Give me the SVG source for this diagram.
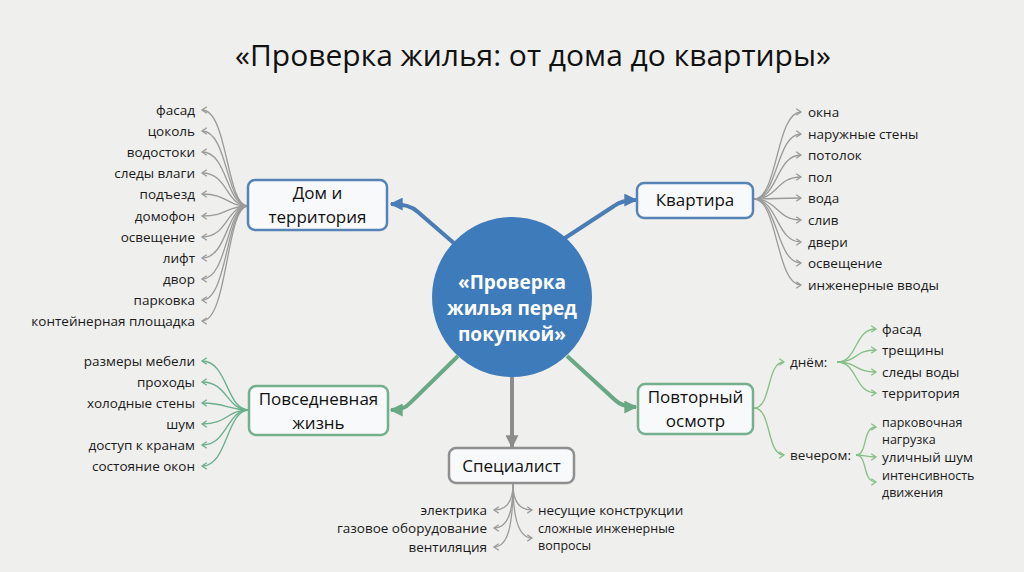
<svg xmlns="http://www.w3.org/2000/svg" width="1024" height="572" viewBox="0 0 1024 572">
<defs>
<style>
.bg{fill:#efefed}
.title{font-family:"Open Sans","Noto Sans","Liberation Sans",sans-serif;font-size:30px;font-weight:500;fill:#111;text-anchor:middle}
.ct{font-family:"Open Sans","Noto Sans","Liberation Sans",sans-serif;font-size:19px;font-weight:700;fill:#fff;text-anchor:middle}
.nt{font-family:"Open Sans","Noto Sans","Liberation Sans",sans-serif;font-size:17px;fill:#111;text-anchor:middle}
.lf{font-family:"Open Sans","Noto Sans","Liberation Sans",sans-serif;font-size:13.5px;fill:#1a1a1a}
.sm{font-size:12.5px}
.end{text-anchor:end}
.boxb{fill:#f8f9fa;stroke:#5683b6;stroke-width:2.5}
.boxg{fill:#f8f9fa;stroke:#74b08e;stroke-width:2.5}
.boxs{fill:#f8f9fa;stroke:#8f8f8f;stroke-width:2.5}
.mb{fill:none;stroke:#4a7db5;stroke-width:4;marker-end:url(#ab)}
.mg{fill:none;stroke:#68a884;stroke-width:4;marker-end:url(#ag)}
.ms{fill:none;stroke:#8c8c8c;stroke-width:4;marker-end:url(#as)}
.lg{fill:none;stroke:#9a9a9a;stroke-width:1.3;marker-end:url(#cg)}
.ln{fill:none;stroke:#6aae8c;stroke-width:1.3;marker-end:url(#cn)}
.lp{fill:none;stroke:#86bf86;stroke-width:1.3;marker-end:url(#cp)}
</style>
<marker id="ab" viewBox="0 0 10 10" refX="9" refY="5" markerWidth="13" markerHeight="13" markerUnits="userSpaceOnUse" orient="auto"><path d="M0,0 L10,5 L0,10 z" fill="#4a7db5"/></marker>
<marker id="ag" viewBox="0 0 10 10" refX="9" refY="5" markerWidth="13" markerHeight="13" markerUnits="userSpaceOnUse" orient="auto"><path d="M0,0 L10,5 L0,10 z" fill="#68a884"/></marker>
<marker id="as" viewBox="0 0 10 10" refX="9" refY="5" markerWidth="13" markerHeight="13" markerUnits="userSpaceOnUse" orient="auto"><path d="M0,0 L10,5 L0,10 z" fill="#8c8c8c"/></marker>
<marker id="cg" viewBox="0 0 10 10" refX="8" refY="5" markerWidth="8" markerHeight="8" markerUnits="userSpaceOnUse" orient="auto"><path d="M2,1 L8,5 L2,9" fill="none" stroke="#9a9a9a" stroke-width="1.6"/></marker>
<marker id="cn" viewBox="0 0 10 10" refX="8" refY="5" markerWidth="8" markerHeight="8" markerUnits="userSpaceOnUse" orient="auto"><path d="M2,1 L8,5 L2,9" fill="none" stroke="#6aae8c" stroke-width="1.6"/></marker>
<marker id="cp" viewBox="0 0 10 10" refX="8" refY="5" markerWidth="8" markerHeight="8" markerUnits="userSpaceOnUse" orient="auto"><path d="M2,1 L8,5 L2,9" fill="none" stroke="#86bf86" stroke-width="1.6"/></marker>
</defs>
<rect class="bg" x="0" y="0" width="1024" height="572"/>
<text class="title" x="533" y="66">«Проверка жилья: от дома до квартиры»</text>

<g id="connectors">
<path class="mb" d="M463,251 L418,212 Q410,204 391,204"/>
<path class="mb" d="M562,240 L614,206 Q622,200 636,200"/>
<path class="mg" d="M458,356 L410,403 Q404,410 391,410"/>
<path class="mg" d="M567,356 L615,400 Q622,407 636,407"/>
<path class="ms" d="M512,377 L512,447"/>
<path class="lg" d="M248,206 C226,206 228,110 202,110"/>
<path class="lg" d="M248,206 C226,206 228,131 202,131"/>
<path class="lg" d="M248,206 C226,206 228,152 202,152"/>
<path class="lg" d="M248,206 C226,206 228,173 202,173"/>
<path class="lg" d="M248,206 C226,206 228,194 202,194"/>
<path class="lg" d="M248,206 C226,206 228,216 202,216"/>
<path class="lg" d="M248,206 C226,206 228,237 202,237"/>
<path class="lg" d="M248,206 C226,206 228,258 202,258"/>
<path class="lg" d="M248,206 C226,206 228,279 202,279"/>
<path class="lg" d="M248,206 C226,206 228,300 202,300"/>
<path class="lg" d="M248,206 C226,206 228,321 202,321"/>
<path class="lg" d="M754,199 C778,199 776,112 801,112"/>
<path class="lg" d="M754,199 C778,199 776,134 801,134"/>
<path class="lg" d="M754,199 C778,199 776,155 801,155"/>
<path class="lg" d="M754,199 C778,199 776,177 801,177"/>
<path class="lg" d="M754,199 C778,199 776,198 801,198"/>
<path class="lg" d="M754,199 C778,199 776,220 801,220"/>
<path class="lg" d="M754,199 C778,199 776,242 801,242"/>
<path class="lg" d="M754,199 C778,199 776,263 801,263"/>
<path class="lg" d="M754,199 C778,199 776,285 801,285"/>
<path class="ln" d="M249,410 C226,410 228,361 202,361"/>
<path class="ln" d="M249,410 C226,410 228,382 202,382"/>
<path class="ln" d="M249,410 C226,410 228,403 202,403"/>
<path class="ln" d="M249,410 C226,410 228,424 202,424"/>
<path class="ln" d="M249,410 C226,410 228,445 202,445"/>
<path class="ln" d="M249,410 C226,410 228,466 202,466"/>
<path class="lp" d="M754,408 C772,408 766,362 784,362"/>
<path class="lp" d="M754,408 C772,408 766,455 784,455"/>
<path class="lp" d="M837,362 C858,362 854,329 876,329"/>
<path class="lp" d="M837,362 C858,362 854,350 876,350"/>
<path class="lp" d="M837,362 C858,362 854,372 876,372"/>
<path class="lp" d="M837,362 C858,362 854,393 876,393"/>
<path class="lp" d="M856,455 C868,455 862,427 876,427"/>
<path class="lp" d="M856,455 C866,455 864,457 876,457"/>
<path class="lp" d="M856,455 C868,455 862,482 876,482"/>
<path class="lg" d="M513,484 C513,500 508,510 494,510"/>
<path class="lg" d="M513,484 C513,512 508,528 494,528"/>
<path class="lg" d="M513,484 C513,525 508,547 494,547"/>
<path class="lg" d="M513,484 C513,500 518,510 532,510"/>
<path class="lg" d="M513,484 C513,515 518,538 532,538"/>
</g>

<g id="center">
<circle cx="512" cy="297" r="80" fill="#3e7bbb"/>
<text class="ct" x="512" y="289">«Проверка</text>
<text class="ct" x="512" y="315">жилья перед</text>
<text class="ct" x="512" y="341">покупкой»</text>
</g>

<g id="dom">
<rect class="boxb" x="248" y="180" width="139" height="50" rx="7"/>
<text class="nt" x="317.5" y="199">Дом и</text>
<text class="nt" x="317.5" y="223">территория</text>
</g>
<g id="dom-leaves">
<text class="lf end" x="195" y="115">фасад</text>
<text class="lf end" x="195" y="136">цоколь</text>
<text class="lf end" x="195" y="157">водостоки</text>
<text class="lf end" x="195" y="178">следы влаги</text>
<text class="lf end" x="195" y="199">подъезд</text>
<text class="lf end" x="195" y="221">домофон</text>
<text class="lf end" x="195" y="242">освещение</text>
<text class="lf end" x="195" y="263">лифт</text>
<text class="lf end" x="195" y="284">двор</text>
<text class="lf end" x="195" y="305">парковка</text>
<text class="lf end" x="195" y="326">контейнерная площадка</text>
</g>

<g id="kvartira">
<rect class="boxb" x="637" y="183" width="116" height="35" rx="7"/>
<text class="nt" x="695" y="206">Квартира</text>
</g>
<g id="kvartira-leaves">
<text class="lf" x="808" y="117">окна</text>
<text class="lf" x="808" y="139">наружные стены</text>
<text class="lf" x="808" y="160">потолок</text>
<text class="lf" x="808" y="182">пол</text>
<text class="lf" x="808" y="203">вода</text>
<text class="lf" x="808" y="225">слив</text>
<text class="lf" x="808" y="247">двери</text>
<text class="lf" x="808" y="268">освещение</text>
<text class="lf" x="808" y="290">инженерные вводы</text>
</g>

<g id="zhizn">
<rect class="boxg" x="249" y="386" width="139" height="49" rx="7"/>
<text class="nt" x="318.5" y="404.5">Повседневная</text>
<text class="nt" x="318.5" y="428.5">жизнь</text>
</g>
<g id="zhizn-leaves">
<text class="lf end" x="195" y="366">размеры мебели</text>
<text class="lf end" x="195" y="387">проходы</text>
<text class="lf end" x="195" y="408">холодные стены</text>
<text class="lf end" x="195" y="429">шум</text>
<text class="lf end" x="195" y="450">доступ к кранам</text>
<text class="lf end" x="195" y="471">состояние окон</text>
</g>

<g id="osmotr">
<rect class="boxg" x="638" y="384" width="115" height="50" rx="7"/>
<text class="nt" x="695.5" y="403">Повторный</text>
<text class="nt" x="695.5" y="427">осмотр</text>
</g>
<g id="osmotr-leaves">
<text class="lf" x="790" y="367">днём:</text>
<text class="lf" x="790" y="460">вечером:</text>
<text class="lf" x="882" y="334">фасад</text>
<text class="lf" x="882" y="355">трещины</text>
<text class="lf" x="882" y="377">следы воды</text>
<text class="lf" x="882" y="398">территория</text>
<text class="lf sm" x="882" y="427">парковочная</text>
<text class="lf sm" x="882" y="444">нагрузка</text>
<text class="lf" x="882" y="462">уличный шум</text>
<text class="lf sm" x="882" y="480">интенсивность</text>
<text class="lf sm" x="882" y="497">движения</text>
</g>

<g id="specialist">
<rect class="boxs" x="449" y="448" width="125" height="35" rx="7"/>
<text class="nt" x="511.5" y="472">Специалист</text>
</g>
<g id="specialist-leaves">
<text class="lf end" x="487" y="515">электрика</text>
<text class="lf end" x="487" y="533">газовое оборудование</text>
<text class="lf end" x="487" y="552">вентиляция</text>
<text class="lf" x="538" y="515">несущие конструкции</text>
<text class="lf sm" x="538" y="533">сложные инженерные</text>
<text class="lf sm" x="538" y="550">вопросы</text>
</g>
</svg>
